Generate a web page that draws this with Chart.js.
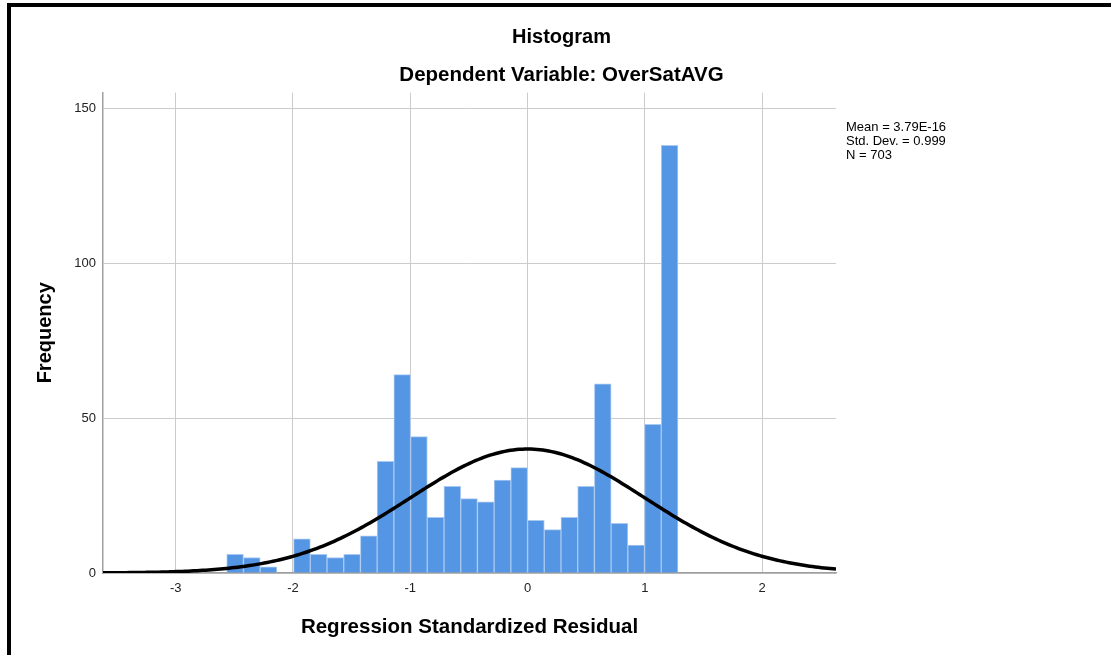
<!DOCTYPE html>
<html>
<head>
<meta charset="utf-8">
<script src="https://cdn.jsdelivr.net/npm/chart.js@4"></script>
<style>
  html, body { margin: 0; padding: 0; background: #fff; }
  #wrap { width: 1111px; height: 655px; }
</style>
</head>
<body>
<div id="wrap"><canvas id="myChart" width="1111" height="655"></canvas></div>
<script>
// histogram bins (regression standardized residual)
var binStart = -2.565;
var binWidth = 0.1425;
var frequencies = [6, 5, 2, 0, 11, 6, 5, 6, 12, 36, 64, 44, 18, 28, 24, 23, 30, 34, 17, 14, 18, 28, 61, 16, 9, 48, 138];

// summary stats shown at the right
var statMean = 3.79e-16;
var statStd = 0.999;
var statN = 703;
var statLines = ['Mean = 3.79E-16', 'Std. Dev. = 0.999', 'N = 703'];

var xTicks = [-3, -2, -1, 0, 1, 2];
var yTicks = [0, 50, 100, 150];
var xMin = -3.62, xMax = 2.63;

var barData = frequencies.map(function (f, i) {
    return { x: binStart + binWidth * (i + 0.5), y: f };
});

// fitted normal curve from mean / std dev / N
var curveData = [];
for (var x = xMin; x <= xMax + 0.001; x += 0.025) {
    var z = (x - statMean) / statStd;
    curveData.push({ x: x, y: statN * binWidth * Math.exp(-0.5 * z * z) / (statStd * Math.sqrt(2 * Math.PI)) });
}

var fontFam = "Arial, 'Liberation Sans', sans-serif";

// frame + stats text
var extras = {
    id: 'extras',
    afterDraw: function (chart) {
        var ctx = chart.ctx;
        ctx.save();
        ctx.fillStyle = '#000';
        ctx.fillRect(7, 3, 1104, 4);
        ctx.fillRect(7, 3, 4, 652);
        ctx.font = '13px ' + fontFam;
        ctx.textBaseline = 'middle';
        ctx.textAlign = 'left';
        for (var i = 0; i < statLines.length; i++) {
            ctx.fillText(statLines[i], 846, 127 + i * 14);
        }
        ctx.restore();
    }
};

var ctx = document.getElementById('myChart').getContext('2d');
var myChart = new Chart(ctx, {
    data: {
        datasets: [
            {
                type: 'line',
                data: curveData,
                borderColor: '#000',
                borderWidth: 3.5,
                pointRadius: 0,
                tension: 0,
                order: 0
            },
            {
                type: 'bar',
                data: barData,
                backgroundColor: '#5495e4',
                borderColor: '#a9c9f0',
                borderWidth: 1,
                barPercentage: 1,
                categoryPercentage: 1,
                order: 1
            }
        ]
    },
    options: {
        responsive: false,
        animation: false,
        layout: { padding: { left: 12, right: 0, top: 0, bottom: 0 } },
        plugins: {
            legend: { display: false },
            tooltip: { enabled: false },
            title: {
                display: true,
                text: 'Histogram',
                color: '#000',
                font: { family: fontFam, size: 20, weight: 'bold' },
                padding: { top: 25, bottom: 14 }
            },
            subtitle: {
                display: true,
                text: 'Dependent Variable: OverSatAVG',
                color: '#000',
                font: { family: fontFam, size: 20.5, weight: 'bold' },
                padding: { top: 0, bottom: 5 }
            }
        },
        scales: {
            x: {
                type: 'linear',
                min: xMin,
                max: xMax,
                offset: false,
                afterBuildTicks: function (scale) {
                    scale.ticks = xTicks.map(function (v) { return { value: v }; });
                },
                afterFit: function (scale) { scale.height = 82; },
                grid: { color: '#cccccc', drawTicks: false, offset: false },
                border: { color: '#a0a0a0', width: 1.5 },
                ticks: {
                    padding: 8,
                    color: '#222',
                    font: { family: fontFam, size: 13 }
                },
                title: {
                    display: true,
                    text: 'Regression Standardized Residual',
                    color: '#000',
                    font: { family: fontFam, size: 20.5, weight: 'bold' },
                    padding: { bottom: 15 }
                }
            },
            y: {
                min: 0,
                max: 155,
                afterBuildTicks: function (scale) {
                    scale.ticks = yTicks.map(function (v) { return { value: v }; });
                },
                afterFit: function (scale) { scale.width = 91; },
                grid: { color: '#cccccc', drawTicks: false },
                border: { color: '#a0a0a0', width: 1.5 },
                ticks: {
                    padding: 7,
                    color: '#222',
                    font: { family: fontFam, size: 13 }
                },
                title: {
                    display: true,
                    text: 'Frequency',
                    color: '#000',
                    font: { family: fontFam, size: 20, weight: 'bold' },
                    padding: { top: 21 }
                }
            },
            // empty right-hand axis that keeps room for the stats text
            side: {
                type: 'linear',
                position: 'right',
                min: 0,
                max: 155,
                afterFit: function (scale) { scale.width = 275; },
                grid: { display: false, drawTicks: false },
                border: { display: false },
                ticks: { display: false }
            }
        }
    },
    plugins: [extras]
});
</script>
</body>
</html>
